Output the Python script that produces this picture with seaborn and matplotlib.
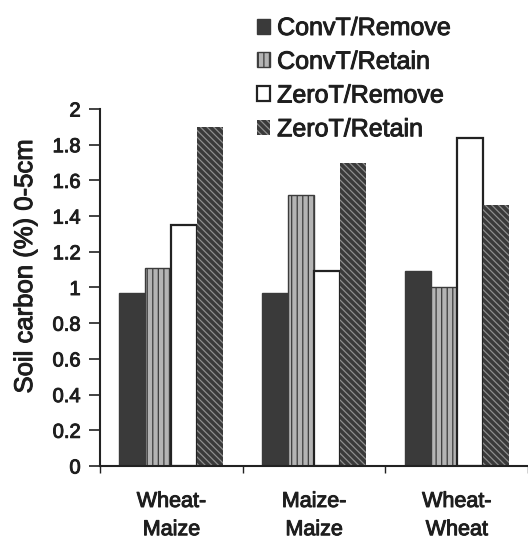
import seaborn as sns
import matplotlib.pyplot as plt
import matplotlib.patheffects as pe
import pandas as pd

# Soil carbon (%) in the 0-5 cm layer
rotations = ['Wheat-\nMaize', 'Maize-\nMaize', 'Wheat-\nWheat']
treatments = ['ConvT/Remove', 'ConvT/Retain', 'ZeroT/Remove', 'ZeroT/Retain']
conv_remove = [0.97, 0.97, 1.09]
conv_retain = [1.11, 1.52, 1.00]
zero_remove = [1.35, 1.09, 1.84]
zero_retain = [1.90, 1.70, 1.46]

rows = []
for t, vals in zip(treatments, [conv_remove, conv_retain, zero_remove, zero_retain]):
    for r, v in zip(rotations, vals):
        rows.append({'rotation': r, 'treatment': t, 'carbon': v})
df = pd.DataFrame(rows)

sns.set_style('ticks')
plt.rcParams['font.family'] = ['Liberation Sans', 'DejaVu Sans']
plt.rcParams['text.color'] = '#1e1e1e'
plt.rcParams['hatch.linewidth'] = 0.9

ink = '#1e1e1e'
heavy = [pe.withStroke(linewidth=0.7, foreground=ink)]
dark = '#3a3a3a'

fig = plt.figure(figsize=(5.28, 5.45), dpi=100)
ax = fig.add_axes([0.1894, 0.145, 0.8106, 0.655])

sns.barplot(data=df, x='rotation', y='carbon', hue='treatment',
            hue_order=treatments, order=rotations, width=0.73,
            palette=[dark, '#b4b4b4', 'white', dark],
            legend=False, ax=ax)

# bar styling per treatment
styles = [
    dict(edgecolor=dark, hatch=None, linewidth=1.0),
    dict(edgecolor='#3c3c3c', hatch='|||', linewidth=1.0),
    dict(edgecolor='#222222', hatch=None, linewidth=1.6),
    dict(edgecolor='#8e8e8e', hatch='\\\\\\\\\\', linewidth=0.0),
]
for cont, st in zip(ax.containers, styles):
    for p in cont.patches:
        p.set_edgecolor(st['edgecolor'])
        p.set_linewidth(st['linewidth'])
        if st['hatch']:
            p.set_hatch(st['hatch'])

ax.set_xlim(-0.483, 2.409)
ax.set_ylim(0, 2)
ax.set_yticks([0, 0.2, 0.4, 0.6, 0.8, 1, 1.2, 1.4, 1.6, 1.8, 2])
ax.set_yticklabels(['0', '0.2', '0.4', '0.6', '0.8', '1', '1.2', '1.4', '1.6', '1.8', '2'])
ax.tick_params(axis='y', labelsize=14.5, length=8, width=1.2, pad=6, color='#222222',
               labelcolor=ink)
ax.tick_params(axis='x', which='major', length=0, labelsize=15.5, pad=18, labelcolor=ink)
ax.set_xticks([-0.5, 0.5, 1.5, 2.5], minor=True)
ax.tick_params(axis='x', which='minor', length=5, width=1.0, color='#222222')
for lbl in ax.get_xticklabels() + ax.get_yticklabels():
    lbl.set_path_effects(heavy)
for lbl in ax.get_xticklabels():
    lbl.set_linespacing(1.45)

ax.set_xlabel('')
ax.set_ylabel('Soil carbon (%) 0-5cm', fontsize=18.5, color=ink, path_effects=heavy)
ax.yaxis.set_label_coords(-0.147, 0.56)

for side in ['top', 'right']:
    ax.spines[side].set_visible(False)
for side in ['left', 'bottom']:
    ax.spines[side].set_color('#222222')
    ax.spines[side].set_linewidth(1.5)

handles = [cont.patches[0] for cont in ax.containers]
leg = fig.legend(handles, treatments, loc='upper left', bbox_to_anchor=(0.468, 0.989),
                 frameon=False, fontsize=18, handlelength=0.5, handleheight=0.55,
                 handletextpad=0.3, labelspacing=0.39, borderaxespad=0)
for txt in leg.get_texts():
    txt.set_path_effects(heavy)

fig.savefig('out.png', dpi=100, facecolor='white')
